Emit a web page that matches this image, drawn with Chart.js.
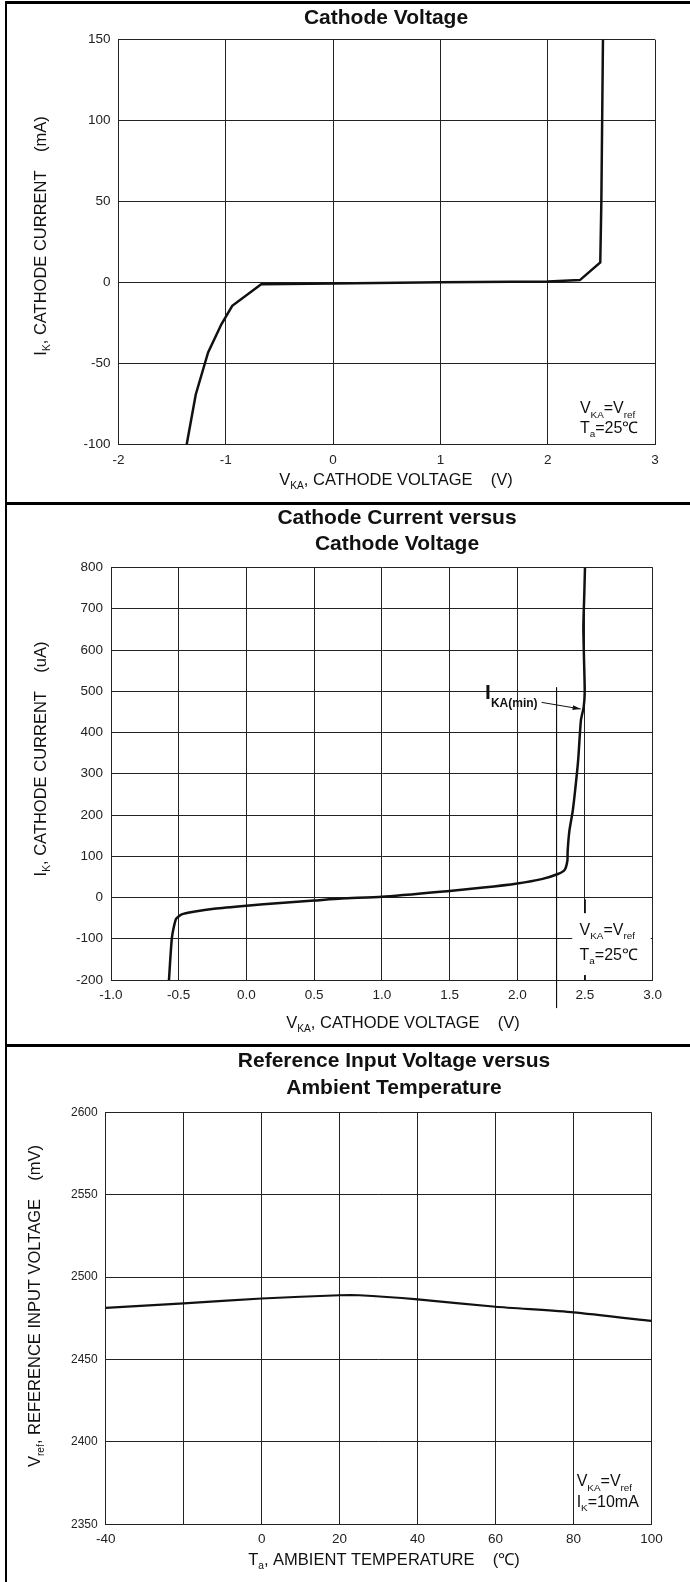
<!DOCTYPE html>
<html>
<head>
<meta charset="utf-8">
<script src="https://cdn.jsdelivr.net/npm/chart.js@4.4.1/dist/chart.umd.min.js"></script>
<style>
html, body { margin: 0; padding: 0; background: #fff; }
#page { position: relative; width: 690px; height: 1582px; overflow: hidden; }
canvas { position: absolute; left: 0; }
.rule { position: absolute; background: #000; }
</style>
</head>
<body>
<div id="page">
  <canvas id="c1" width="690" height="498" style="top:4px"></canvas>
  <canvas id="c2" width="690" height="539" style="top:505px"></canvas>
  <canvas id="c3" width="690" height="535" style="top:1047px"></canvas>
  <div class="rule" style="left:5px;top:1px;width:685px;height:3px"></div>
  <div class="rule" style="left:5px;top:502px;width:685px;height:3px"></div>
  <div class="rule" style="left:5px;top:1044px;width:685px;height:3px"></div>
  <div class="rule" style="left:5px;top:1px;width:2px;height:1581px"></div>
</div>
<script>
// chart 1: cathode current (mA) vs cathode voltage
const p1Volts   = [-1.365, -1.28, -1.165, -1.04, -0.94, -0.67, 0, 1, 2, 2.3, 2.49, 2.5, 2.515];
const p1Current = [-100, -69, -43, -25.5, -14.3, -1, -0.5, 0.3, 0.8, 1.6, 12.5, 50, 150];
const p1XTicks = [-2, -1, 0, 1, 2, 3];
const p1YTicks = [-100, -50, 0, 50, 100, 150];

// chart 2: cathode current (uA) vs cathode voltage
const p2Volts   = [-0.572, -0.55, -0.52, -0.478, -0.39, -0.24, 0, 0.25, 0.5, 0.7, 1.0, 1.5, 1.75, 2.0, 2.18, 2.3, 2.35, 2.37, 2.372, 2.385, 2.41, 2.43, 2.45, 2.47, 2.49, 2.498, 2.493, 2.488, 2.495, 2.5];
const p2Current = [-200, -97, -52, -41, -34.7, -27.3, -19.8, -13.2, -7.4, -2.5, 1.6, 16, 24, 34, 44.5, 57, 67, 89, 113, 162, 211, 268, 335, 430, 461, 499, 575, 656, 737, 800];
const p2MinLineV = [2.29, 2.29];
const p2MinLineI = [509, -268];
const p2RefLineV = [2.5, 2.5];
const p2RefLineI = [-5, -200];
const p2ArrowV = [2.18, 2.468];
const p2ArrowI = [473, 457];
const p2XTicks = [-1.0, -0.5, 0.0, 0.5, 1.0, 1.5, 2.0, 2.5, 3.0];
const p2YTicks = [-200, -100, 0, 100, 200, 300, 400, 500, 600, 700, 800];

// chart 3: reference input voltage vs ambient temperature
const p3Temps = [-40, -20, 0, 20, 25, 40, 60, 80, 100];
const p3Vref  = [2481.3, 2484, 2487, 2489, 2489, 2486.5, 2482, 2478.6, 2473.4];
const p3XTicks = [-40, -20, 0, 20, 40, 60, 80, 100];
const p3XLabels = ['-40', '', '0', '20', '40', '60', '80', '100'];
const p3YTicks = [2350, 2400, 2450, 2500, 2550, 2600];

const FAM = "'Liberation Sans', Arial, Helvetica, sans-serif";
const INK = '#111';
const GRID = '#222';
const AXIS_TITLE = 16.5;
const NOTE = 16;

function pts(xs, ys) {
  return xs.map((x, i) => ({ x: x, y: ys[i] }));
}

function partFont(p, base, bold) {
  const size = p.s || (p.sub ? base * 0.62 : base);
  const b = p.b !== undefined ? p.b : bold;
  return (b ? 'bold ' : '') + size + 'px ' + FAM;
}

function drawRich(ctx, parts, base, bold, x, y, align) {
  const widths = parts.map(p => { ctx.font = partFont(p, base, bold); return ctx.measureText(p.t).width; });
  const total = widths.reduce((a, b) => a + b, 0);
  let cx = align === 'center' ? x - total / 2 : align === 'right' ? x - total : x;
  ctx.textAlign = 'left';
  ctx.textBaseline = 'middle';
  parts.forEach((p, i) => {
    ctx.font = partFont(p, base, bold);
    const dy = p.dy !== undefined ? p.dy : (p.sub ? base * 0.38 : 0);
    ctx.fillText(p.t, cx, y + dy);
    cx += widths[i];
  });
}

function notesPlugin(cfg) {
  return {
    id: 'notes',
    afterDraw(chart) {
      const ctx = chart.ctx;
      const xs = chart.scales.x, ys = chart.scales.y;
      ctx.save();
      ctx.fillStyle = INK;
      cfg.title.forEach(line => drawRich(ctx, [{ t: line[0] }], 21, true, cfg.titleX, line[1], 'center'));
      drawRich(ctx, cfg.xTitle, AXIS_TITLE, false, cfg.xTitleAt[0], cfg.xTitleAt[1], 'center');
      ctx.save();
      ctx.translate(cfg.yTitleAt[0], cfg.yTitleAt[1]);
      ctx.rotate(-Math.PI / 2);
      drawRich(ctx, cfg.yTitle, AXIS_TITLE, false, 0, 0, 'center');
      ctx.restore();

      if (cfg.box) {
        const l = xs.getPixelForValue(cfg.box[0]), r = xs.getPixelForValue(cfg.box[1]);
        const t = ys.getPixelForValue(cfg.box[2]), b = ys.getPixelForValue(cfg.box[3]);
        ctx.fillStyle = '#fff';
        ctx.fillRect(l, t, r - l, b - t);
        ctx.fillStyle = INK;
      }
      cfg.notes.forEach(n => {
        drawRich(ctx, n.parts, n.size || NOTE, !!n.bold, xs.getPixelForValue(n.x), ys.getPixelForValue(n.y), n.align || 'left');
      });
      if (cfg.arrow) {
        const a = cfg.arrow;
        const x0 = xs.getPixelForValue(a.xs[0]), y0 = ys.getPixelForValue(a.ys[0]);
        const x1 = xs.getPixelForValue(a.xs[1]), y1 = ys.getPixelForValue(a.ys[1]);
        const ang = Math.atan2(y1 - y0, x1 - x0);
        ctx.beginPath();
        ctx.moveTo(x1, y1);
        ctx.lineTo(x1 - 8 * Math.cos(ang) + 2.5 * Math.sin(ang), y1 - 8 * Math.sin(ang) - 2.5 * Math.cos(ang));
        ctx.lineTo(x1 - 8 * Math.cos(ang) - 2.5 * Math.sin(ang), y1 - 8 * Math.sin(ang) + 2.5 * Math.cos(ang));
        ctx.closePath();
        ctx.fill();
      }
      ctx.restore();
    }
  };
}

function axis(tickVals, opts) {
  return {
    type: 'linear',
    min: tickVals[0],
    max: tickVals[tickVals.length - 1],
    afterBuildTicks: s => { s.ticks = tickVals.map(v => ({ value: v })); },
    afterFit: opts.fit,
    grid: { color: GRID, lineWidth: 1, drawTicks: false },
    border: { color: GRID, width: 1 },
    ticks: {
      color: '#222',
      padding: opts.pad,
      font: { family: FAM, size: opts.size || 13.5 },
      autoSkip: false,
      maxRotation: 0,
      callback: opts.label || (v => v)
    }
  };
}

function curve(xs, ys, width, tension, extra) {
  return Object.assign({
    data: pts(xs, ys),
    showLine: true,
    borderColor: INK,
    borderWidth: width,
    pointRadius: 0,
    tension: tension,
    fill: false
  }, extra || {});
}

function baseOptions(pad, xAxis, yAxis) {
  return {
    responsive: false,
    animation: false,
    events: [],
    layout: { padding: pad },
    plugins: { legend: { display: false }, tooltip: { enabled: false }, title: { display: false } },
    scales: { x: xAxis, y: yAxis }
  };
}

const VKA = [{ t: 'V' }, { t: 'KA', sub: true }];

new Chart(document.getElementById('c1'), {
  type: 'scatter',
  data: { datasets: [curve(p1Volts, p1Current, 2.5, 0)] },
  options: baseOptions({ top: 35.7, right: 35, left: 0, bottom: 0 },
    axis(p1XTicks, { pad: 7, fit: s => { s.height = 57.3; } }),
    axis(p1YTicks, { pad: 8, fit: s => { s.width = 118.5; } })),
  plugins: [notesPlugin({
    title: [['Cathode Voltage', 14.3]],
    titleX: 386,
    xTitle: VKA.concat([{ t: ', CATHODE VOLTAGE    (V)' }]),
    xTitleAt: [396, 476],
    yTitle: [{ t: 'I' }, { t: 'K', sub: true }, { t: ', CATHODE CURRENT    (mA)' }],
    yTitleAt: [41, 232],
    notes: [
      { x: 2.3, y: -78, parts: VKA.concat([{ t: '=V' }, { t: 'ref', sub: true }]) },
      { x: 2.3, y: -90, parts: [{ t: 'T' }, { t: 'a', sub: true }, { t: '=25℃' }] }
    ]
  })]
});

new Chart(document.getElementById('c2'), {
  type: 'scatter',
  data: {
    datasets: [
      curve(p2MinLineV, p2MinLineI, 1, 0, { clip: false }),
      curve(p2RefLineV, p2RefLineI, 1, 0),
      curve(p2ArrowV, p2ArrowI, 1, 0),
      curve(p2Volts, p2Current, 2.5, 0.2)
    ]
  },
  options: baseOptions({ top: 62.5, right: 37.3, left: 0, bottom: 0 },
    axis(p2XTicks, { pad: 7, fit: s => { s.height = 64; }, label: v => Number(v).toFixed(1) }),
    axis(p2YTicks, { pad: 8, fit: s => { s.width = 111; } })),
  plugins: [notesPlugin({
    title: [['Cathode Current versus', 13], ['Cathode Voltage', 39]],
    titleX: 397,
    xTitle: VKA.concat([{ t: ', CATHODE VOLTAGE    (V)' }]),
    xTitleAt: [403, 518],
    yTitle: [{ t: 'I' }, { t: 'K', sub: true }, { t: ', CATHODE CURRENT    (uA)' }],
    yTitleAt: [41, 254],
    box: [2.406, 2.985, -38, -188],
    arrow: { xs: p2ArrowV, ys: p2ArrowI },
    notes: [
      { x: 2.46, y: -80, parts: VKA.concat([{ t: '=V' }, { t: 'ref', sub: true }]) },
      { x: 2.46, y: -140, parts: [{ t: 'T' }, { t: 'a', sub: true }, { t: '=25℃' }] },
      { x: 2.15, y: 469, align: 'right', bold: true, parts: [{ t: 'I', s: 21, dy: -11 }, { t: 'KA(min)', s: 12 }] }
    ]
  })]
});

new Chart(document.getElementById('c3'), {
  type: 'scatter',
  data: { datasets: [curve(p3Temps, p3Vref, 2.2, 0.2)] },
  options: baseOptions({ top: 65.3, right: 38.5, left: 0, bottom: 0 },
    axis(p3XTicks, { pad: 7, fit: s => { s.height = 57.7; }, label: (v, i) => p3XLabels[i] }),
    axis(p3YTicks, { pad: 8, size: 12, fit: s => { s.width = 105.7; } })),
  plugins: [notesPlugin({
    title: [['Reference Input Voltage versus', 14.7], ['Ambient Temperature', 41.3]],
    titleX: 394,
    xTitle: [{ t: 'T' }, { t: 'a', sub: true }, { t: ', AMBIENT TEMPERATURE    (℃)' }],
    xTitleAt: [384, 513],
    yTitle: [{ t: 'V' }, { t: 'ref', sub: true }, { t: ', REFERENCE INPUT VOLTAGE    (mV)' }],
    yTitleAt: [35, 259],
    notes: [
      { x: 80.8, y: 2375.8, parts: VKA.concat([{ t: '=V' }, { t: 'ref', sub: true }]) },
      { x: 80.8, y: 2363.3, parts: [{ t: 'I' }, { t: 'K', sub: true }, { t: '=10mA' }] }
    ]
  })]
});
</script>
</body>
</html>
